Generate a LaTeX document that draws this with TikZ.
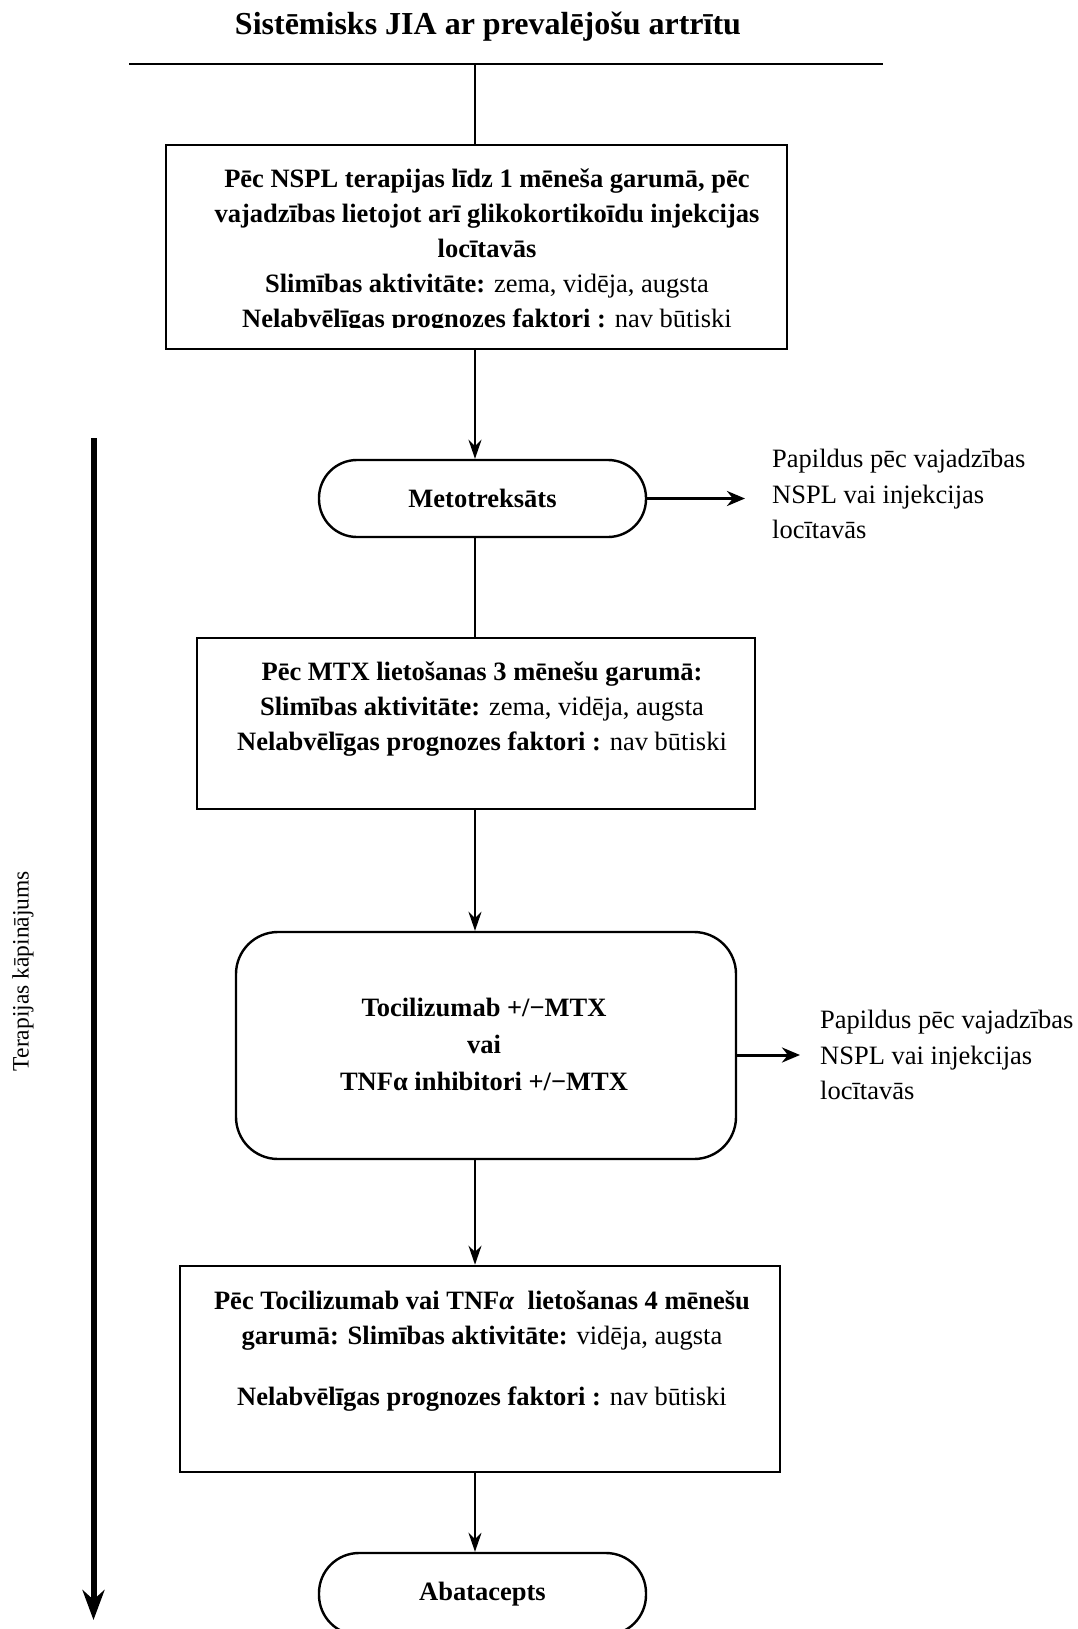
\documentclass[tikz,border=0pt]{standalone}
\usepackage{fontspec}
\setmainfont{Liberation Serif}
\usetikzlibrary{arrows.meta,calc}
\begin{document}
\begin{tikzpicture}[x=1pt,y=-1pt,
  sqbox/.style={draw, line width=2.6pt, inner sep=0pt},
  rbox/.style={draw, line width=2.4pt, rounded corners=42pt, inner sep=0pt},
  pill/.style={draw, line width=2.4pt, rounded corners=38pt, inner sep=0pt, minimum width=327pt, minimum height=77pt, font=\fontsize{26.5}{30}\selectfont\bfseries},
  txt/.style={font=\fontsize{26.5}{35}\selectfont, align=center, inner sep=0pt},
  note/.style={font=\fontsize{26.5}{35.5}\selectfont, align=left, inner sep=0pt, anchor=west},
  conn/.style={line width=2pt},
  arr/.style={line width=2pt, -{Stealth[length=19pt,width=13pt]}},
  sidearr/.style={line width=3pt, -{Stealth[length=18pt,width=15pt]}}
]
\useasboundingbox (0,0) rectangle (1077,1629);

% title and top line
\node[font=\fontsize{32}{36}\selectfont\bfseries, inner sep=0pt] (title) at (488,27) {Sistēmisks JIA ar prevalējošu artrītu};
\coordinate (hl) at (129,64);
\coordinate (hr) at (883,64);
\coordinate (spine) at (475,64);
\draw[line width=2.5pt] (hl) -- (hr);

% box 1
\node[sqbox, minimum width=621pt, minimum height=204pt] (b1) at (476.5,247) {};
\begin{scope}
\clip (170,150) rectangle (783,327);
\node[txt] (t1) at (487,251) {\textbf{Pēc NSPL terapijas līdz 1 mēneša garumā, pēc}\\
\textbf{vajadzības lietojot arī glikokortikoīdu injekcijas}\\
\textbf{locītavās}\\
\textbf{Slimības aktivitāte:} zema, vidēja, augsta\\
\textbf{Nelabvēlīgas prognozes faktori :} nav būtiski};
\end{scope}

% Metotreksats
\node[pill] (met) at (482.5,498.5) {Metotreksāts};
\node[note] (p1) at (772,494) {Papildus pēc vajadzības\\NSPL vai injekcijas\\locītavās};

% box 2
\node[sqbox, minimum width=558pt, minimum height=171pt] (b2) at (476,723.5) {};
\node[txt] (t2) at (482,709) {\textbf{Pēc MTX lietošanas 3 mēnešu garumā:}\\
\textbf{Slimības aktivitāte:} zema, vidēja, augsta\\
\textbf{Nelabvēlīgas prognozes faktori :} nav būtiski};

% box 3
\node[rbox, minimum width=500pt, minimum height=227pt] (b3) at (486,1045.5) {};
\node[txt, font=\fontsize{26.5}{37}\selectfont\bfseries] (t3) at (484,1044) {Tocilizumab +/−MTX\\vai\\TNFα inhibitori +/−MTX};
\node[note] (p2) at (820,1055) {Papildus pēc vajadzības\\NSPL vai injekcijas\\locītavās};

% box 4
\node[sqbox, minimum width=600pt, minimum height=206pt] (b4) at (480,1369) {};
\node[txt] (t4) at (482,1351) {\textbf{Pēc Tocilizumab vai TNF\textit{α}\ \ lietošanas 4 mēnešu}\\
\textbf{garumā: Slimības aktivitāte:} vidēja, augsta\\[26pt]
\textbf{Nelabvēlīgas prognozes faktori :} nav būtiski};

% Abatacepts
\node[pill, minimum height=82pt, rounded corners=40pt] (ab) at (482.5,1594) {Abatacepts};

% connectors
\draw[conn] (spine) -- (spine |- b1.north);
\draw[arr] (spine |- b1.south) -- (spine |- met.north);
\draw[conn] (spine |- met.south) -- (spine |- b2.north);
\draw[arr] (spine |- b2.south) -- (spine |- b3.north);
\draw[arr] (spine |- b3.south) -- (spine |- b4.north);
\draw[arr] (spine |- b4.south) -- (spine |- ab.north);
\draw[sidearr, shorten >=27pt] (met.east) -- (met.east -| p1.west);
\draw[sidearr, shorten >=20pt] (p2.west -| b3.east) -- (p2.west);

% left escalation arrow
\coordinate (la) at (93.5,438);
\coordinate (lb) at (93.5,1620);
\draw[line width=6pt, -{Stealth[length=30pt,width=22pt]}] (la) -- (lb);
\node[rotate=90, font=\fontsize{23.5}{26}\selectfont, inner sep=0pt] (lab) at (23,971) {Terapijas kāpinājums};
\end{tikzpicture}
\end{document}
